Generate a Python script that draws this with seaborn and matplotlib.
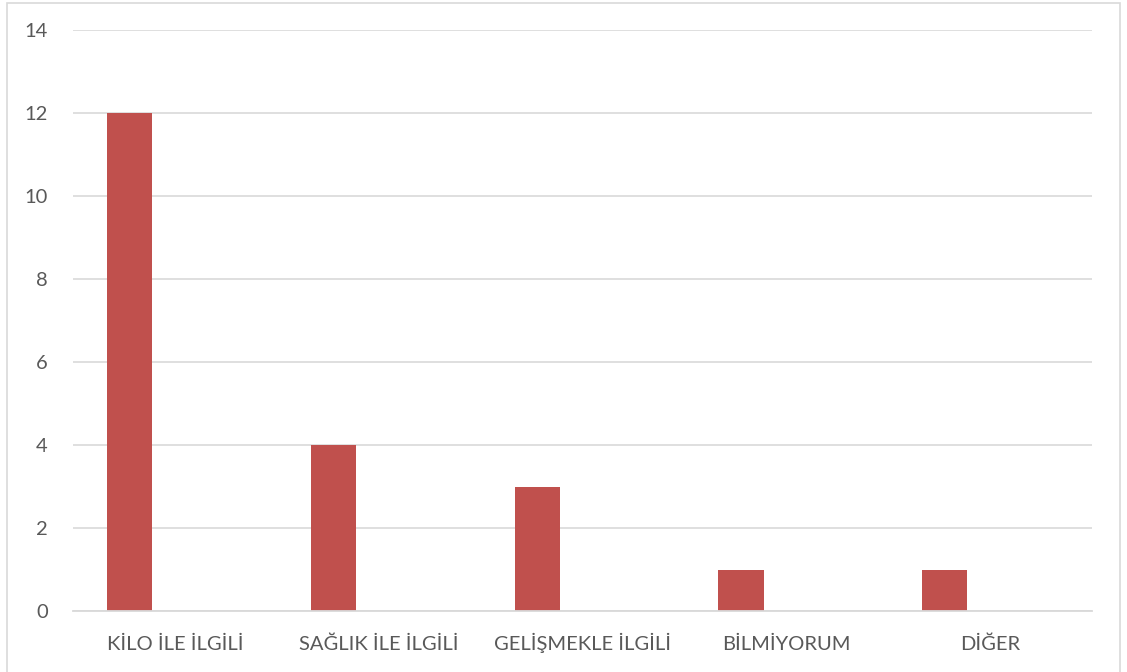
import numpy as np
import pandas as pd
import matplotlib
matplotlib.use("Agg")
import matplotlib.pyplot as plt
from matplotlib.patches import Rectangle
import seaborn as sns

categories = ["KİLO İLE İLGİLİ", "SAĞLIK İLE İLGİLİ", "GELİŞMEKLE İLGİLİ", "BİLMİYORUM", "DİĞER"]
series_names = ["Seri 1", "Seri 2", "Seri 3"]
seri1 = [12, 4, 3, 1, 1]
seri2 = [np.nan] * 5
seri3 = [np.nan] * 5
y_ticks = [0, 2, 4, 6, 8, 10, 12, 14]

df = pd.DataFrame({
    "kategori": categories * 3,
    "seri": [series_names[0]] * 5 + [series_names[1]] * 5 + [series_names[2]] * 5,
    "deger": seri1 + seri2 + seri3,
})

sns.set_theme(style="white")
plt.rcParams["font.family"] = ["Lato", "DejaVu Sans"]

fig = plt.figure(figsize=(11.27, 6.72), dpi=100)
ax = fig.add_axes([73 / 1127, 1 - 611 / 672, (1092 - 73) / 1127, (611 - 30) / 672])

sns.barplot(data=df, x="kategori", y="deger", hue="seri", hue_order=series_names,
            order=categories, palette=["#C0504D", "#4F81BD", "#9BBB59"],
            width=2 / 3, dodge=True, saturation=1, linewidth=0, legend=False,
            errorbar=None, ax=ax)

ax.set_ylim(0, 14)
ax.set_xlim(-0.5, len(categories) - 0.5)
ax.set_yticks(y_ticks)
ax.yaxis.grid(True, color="#D9D9D9", linewidth=1.2)
ax.set_axisbelow(True)
for side in ["left", "right", "top"]:
    ax.spines[side].set_visible(False)
ax.spines["bottom"].set_color("#D9D9D9")
ax.spines["bottom"].set_linewidth(1.3)
ax.set_xlabel("")
ax.set_ylabel("")
ax.tick_params(axis="both", length=0, labelsize=14.5, colors="#595959")
ax.tick_params(axis="y", pad=18)
ax.tick_params(axis="x", pad=28)
for lbl in ax.get_xticklabels():
    lbl.set_verticalalignment("baseline")

fig.patches.append(Rectangle((7 / 1127, -0.01), (1120 - 7) / 1127, 1 - 3 / 672 + 0.01,
                             transform=fig.transFigure, fill=False,
                             edgecolor="#D9D9D9", linewidth=1.2))

fig.savefig("out.png", dpi=100)
